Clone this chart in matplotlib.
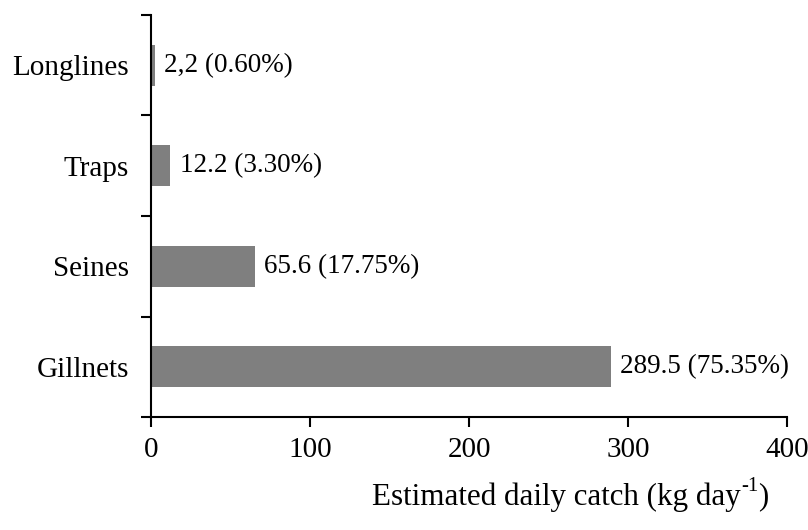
import numpy as np
import matplotlib.pyplot as plt

gears = ['Gillnets', 'Seines', 'Traps', 'Longlines']
catch = [289.5, 65.6, 12.2, 2.2]
labels = ['289.5 (75.35%)', '65.6 (17.75%)', '12.2 (3.30%)', '2,2 (0.60%)']
xticks = [0, 100, 200, 300, 400]

plt.rcParams['font.family'] = ['Liberation Serif', 'DejaVu Serif']
plt.rcParams['font.size'] = 21

fig = plt.figure(figsize=(8.08, 5.30), dpi=100)
ax = fig.add_axes([0.187, 0.213, 0.787, 0.759])

y = np.arange(len(gears))
ax.barh(y, catch, height=0.41, color='#7f7f7f')
for yi, v, t in zip(y, catch, labels):
    ax.annotate(t, (v, yi), xytext=(6.5, 0), textcoords='offset points',
                va='center', ha='left', fontsize=19.5)

ax.set_xlim(0, 400)
ax.set_ylim(-0.5, 3.5)
ax.set_xticks(xticks)
ax.set_yticks(y)
ax.set_yticklabels(gears)
ax.set_yticks(np.arange(-0.5, 3.6, 1), minor=True)
ax.tick_params(axis='y', which='major', length=0, pad=16)
ax.tick_params(axis='y', which='minor', length=7, width=1.5, direction='out')
ax.tick_params(axis='x', length=7, width=1.5, direction='out', pad=7)
for s in ['top', 'right']:
    ax.spines[s].set_visible(False)
for s in ['left', 'bottom']:
    ax.spines[s].set_linewidth(1.5)

# x label with a small hyphen superscript, Excel style
lab = fig.text(0.461, 0.062, 'Estimated daily catch (kg day', ha='left', va='center', fontsize=22.3)
fig.canvas.draw()
bb = lab.get_window_extent().transformed(fig.transFigure.inverted())
sup = fig.text(bb.x1, 0.062 + 0.02, '-1', ha='left', va='center', fontsize=15)
fig.canvas.draw()
bb2 = sup.get_window_extent().transformed(fig.transFigure.inverted())
fig.text(bb2.x1, 0.062, ')', ha='left', va='center', fontsize=22.3)
fig.savefig('out.png', dpi=100)
